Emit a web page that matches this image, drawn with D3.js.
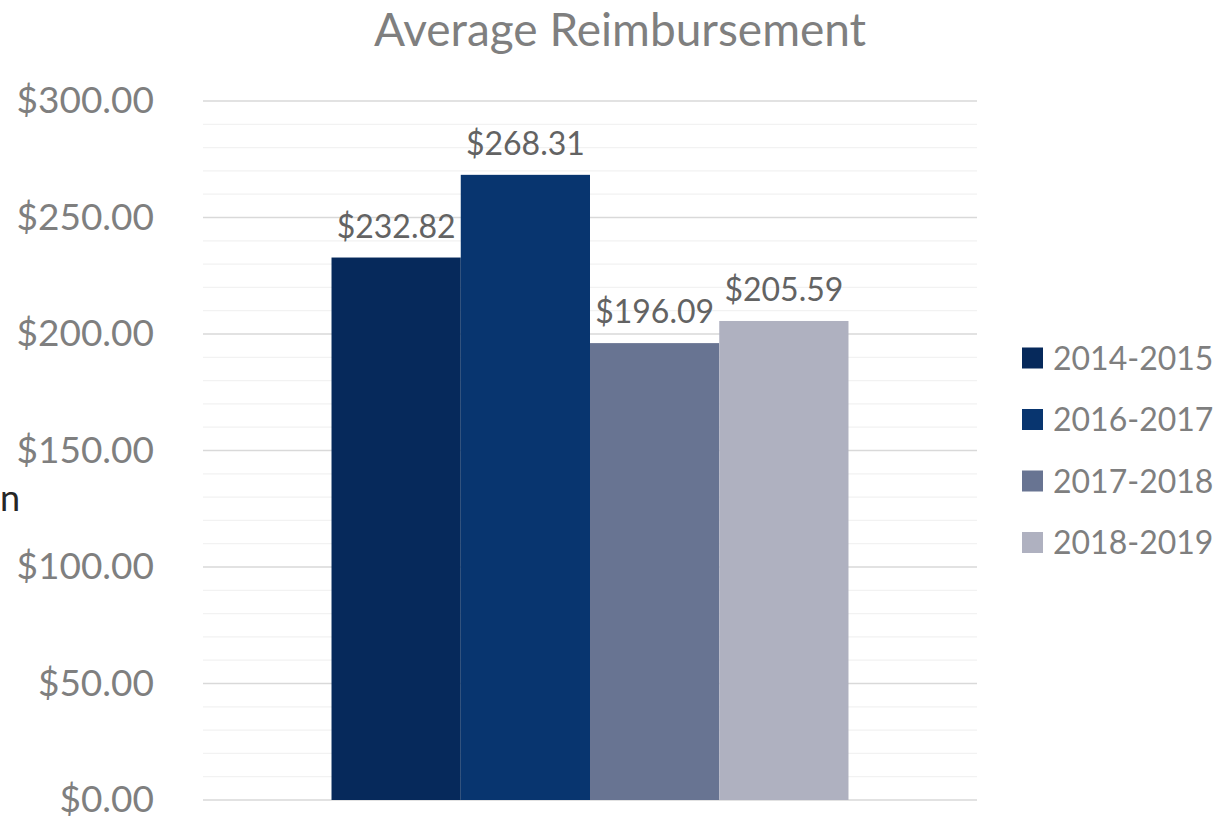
<!DOCTYPE html>
<html>
<head>
<script src="https://d3js.org/d3.v7.min.js"></script>
<style>
  body { margin: 0; background: #fff; }
  text { font-family: Lato, "Open Sans", sans-serif; }
</style>
</head>
<body>
<div id="chart"></div>
<script>
// data
const category = "Average Reimbursement";
const years = ["2014-2015", "2016-2017", "2017-2018", "2018-2019"];
const values = [232.82, 268.31, 196.09, 205.59];
const colors = ["#06295B", "#08356F", "#687492", "#AFB1C0"];
const majorTicks = [0, 50, 100, 150, 200, 250, 300];

const W = 1229, H = 822;
const plot = {left: 203, right: 977, top: 101, bottom: 800};

const svg = d3.select("#chart").append("svg")
  .attr("width", W).attr("height", H);

const y = d3.scaleLinear().domain([0, 300]).range([plot.bottom, plot.top]);

const x0 = d3.scaleBand().domain([category])
  .range([plot.left, plot.right]).paddingOuter(0.2486);
const x1 = d3.scaleBand().domain(years)
  .range([0, x0.bandwidth()]);

const fmt = d => "$" + d3.format(",.2f")(d);

// minor gridlines every $10
svg.append("g").selectAll("line")
  .data(d3.range(0, 301, 10).filter(v => v % 50 !== 0))
  .join("line")
  .attr("x1", plot.left).attr("x2", plot.right)
  .attr("y1", d => y(d)).attr("y2", d => y(d))
  .attr("stroke", "#f2f2f2").attr("stroke-width", 1.3);

// major gridlines
svg.append("g").selectAll("line")
  .data(majorTicks)
  .join("line")
  .attr("x1", plot.left).attr("x2", plot.right)
  .attr("y1", d => y(d)).attr("y2", d => y(d))
  .attr("stroke", "#d9d9d9").attr("stroke-width", 1.3);

// y axis labels
const yAxis = d3.axisLeft(y).tickValues(majorTicks).tickFormat(fmt).tickSize(0).tickPadding(0);
svg.append("g")
  .attr("transform", "translate(154,0)")
  .call(yAxis)
  .call(g => g.select(".domain").remove())
  .call(g => g.selectAll("text")
     .attr("fill", "#7f7f7f")
     .style("font-size", "37px")
     .style("font-family", "Lato, sans-serif"));

// bars
const g = svg.append("g").attr("transform", "translate(" + x0(category) + ",0)");
g.selectAll("rect")
  .data(values)
  .join("rect")
  .attr("x", (d, i) => x1(years[i]))
  .attr("width", x1.bandwidth())
  .attr("y", d => y(d))
  .attr("height", d => y(0) - y(d))
  .attr("fill", (d, i) => colors[i]);

g.selectAll("text.lbl")
  .data(values)
  .join("text")
  .attr("class", "lbl")
  .attr("x", (d, i) => x1(years[i]) + x1.bandwidth() / 2)
  .attr("y", d => y(d) - 20)
  .attr("text-anchor", "middle")
  .attr("fill", "#636363")
  .style("font-size", "32px")
  .text(fmt);

// title
svg.append("text")
  .attr("x", 620).attr("y", 46)
  .attr("text-anchor", "middle")
  .attr("fill", "#7f7f7f")
  .style("font-size", "46px")
  .text(category);

// axis title fragment at left edge
svg.append("text")
  .attr("x", 0).attr("y", 511)
  .attr("text-anchor", "start")
  .attr("fill", "#262626")
  .style("font-size", "36px")
  .text("n");

// legend
const leg = svg.append("g").selectAll("g")
  .data(years)
  .join("g")
  .attr("transform", (d, i) => "translate(1022," + (358 + i * 61.5) + ")");
leg.append("rect")
  .attr("x", 0).attr("y", -10.5)
  .attr("width", 21).attr("height", 21)
  .attr("fill", (d, i) => colors[i]);
leg.append("text")
  .attr("x", 31).attr("y", 0)
  .attr("dy", "0.36em")
  .attr("fill", "#7f7f7f")
  .style("font-size", "32px")
  .text(d => d);
</script>
</body>
</html>
